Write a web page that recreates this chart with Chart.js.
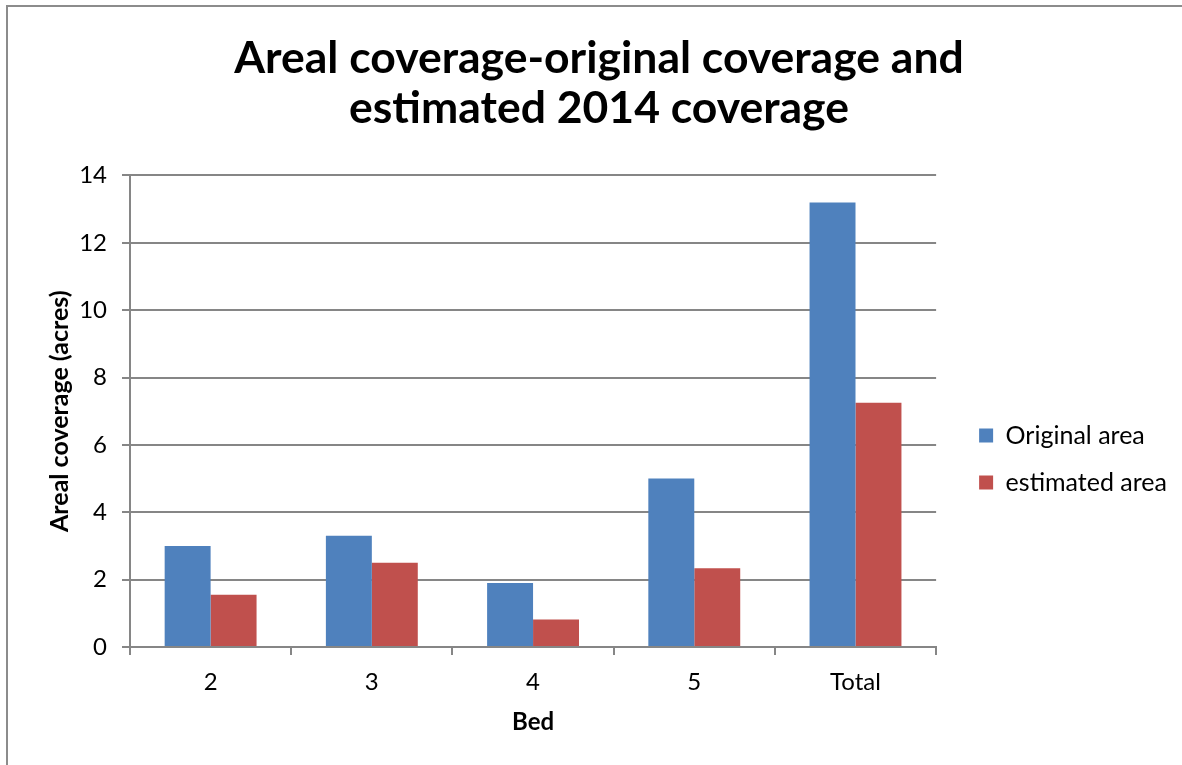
<!DOCTYPE html>
<html>
<head>
<meta charset="utf-8">
<script src="https://cdn.jsdelivr.net/npm/chart.js@4"></script>
<style>
  html, body { margin: 0; padding: 0; background: #fff; overflow: hidden; }
  #frame { position: absolute; left: 6px; top: 5px; width: 1300px; height: 900px; border: 2px solid #8c8c8c; box-sizing: border-box; }
  #wrap { position: absolute; left: 0; top: 0; width: 1182px; height: 765px; }
</style>
</head>
<body>
<div id="frame"></div>
<div id="wrap"><canvas id="chart" width="1182" height="765"></canvas></div>
<script>
const beds = ['2', '3', '4', '5', 'Total'];
const originalArea = [3.0, 3.3, 1.9, 5.0, 13.2];
const estimatedArea = [1.55, 2.5, 0.82, 2.34, 7.25];
const yTicks = [0, 2, 4, 6, 8, 10, 12, 14];

const FONT = 'Lato, "Open Sans", sans-serif';
const axisGrey = '#868686';

// nudge the legend a bit right/down, Excel puts it lower than centred
const legendNudge = {
  id: 'legendNudge',
  afterLayout(chart) {
    const l = chart.legend;
    l.left += 21; l.right += 21;
    l.top += 89; l.bottom += 89;
  }
};

const ctx = document.getElementById('chart').getContext('2d');
new Chart(ctx, {
  type: 'bar',
  data: {
    labels: beds,
    datasets: [
      { label: 'Original area', data: originalArea, backgroundColor: '#4f81bd' },
      { label: 'estimated area', data: estimatedArea, backgroundColor: '#c0504d' }
    ]
  },
  plugins: [legendNudge],
  options: {
    responsive: false,
    animation: false,
    devicePixelRatio: 1,
    layout: { padding: { left: 42, right: 26, top: 0, bottom: 25 } },
    datasets: { bar: { barPercentage: 1.0, categoryPercentage: 0.57 } },
    plugins: {
      title: {
        display: true,
        text: ['Areal coverage-original coverage and', 'estimated 2014 coverage'],
        color: '#000',
        font: { family: FONT, size: 44.5, weight: 'bold', lineHeight: 1.14 },
        padding: { top: 33, bottom: 41 }
      },
      legend: {
        position: 'right',
        labels: {
          color: '#000',
          font: { family: FONT, size: 25 },
          boxWidth: 14,
          boxHeight: 14,
          padding: 22
        }
      },
      tooltip: { enabled: false }
    },
    scales: {
      x: {
        afterFit: (axis) => { axis.height = 93; },
        grid: { display: true, drawOnChartArea: false, color: axisGrey, lineWidth: 2, tickLength: 8, offset: true },
        border: { color: axisGrey, width: 2 },
        ticks: { color: '#000', font: { family: FONT, size: 24 }, padding: 13 },
        title: { display: true, text: 'Bed', color: '#000', font: { family: FONT, size: 24, weight: 'bold' }, padding: { top: 4, bottom: 3 } }
      },
      y: {
        min: 0,
        max: 14,
        afterFit: (axis) => { axis.width = 88; },
        afterBuildTicks: (axis) => { axis.ticks = yTicks.map(v => ({ value: v })); },
        grid: { color: axisGrey, lineWidth: 2, tickLength: 8 },
        border: { color: axisGrey, width: 2 },
        ticks: { color: '#000', font: { family: FONT, size: 24 }, padding: 15 },
        title: { display: true, text: 'Areal coverage (acres)', color: '#000', font: { family: FONT, size: 25, weight: 'bold' }, padding: { top: 3, bottom: 4 } }
      }
    }
  }
});
</script>
</body>
</html>
